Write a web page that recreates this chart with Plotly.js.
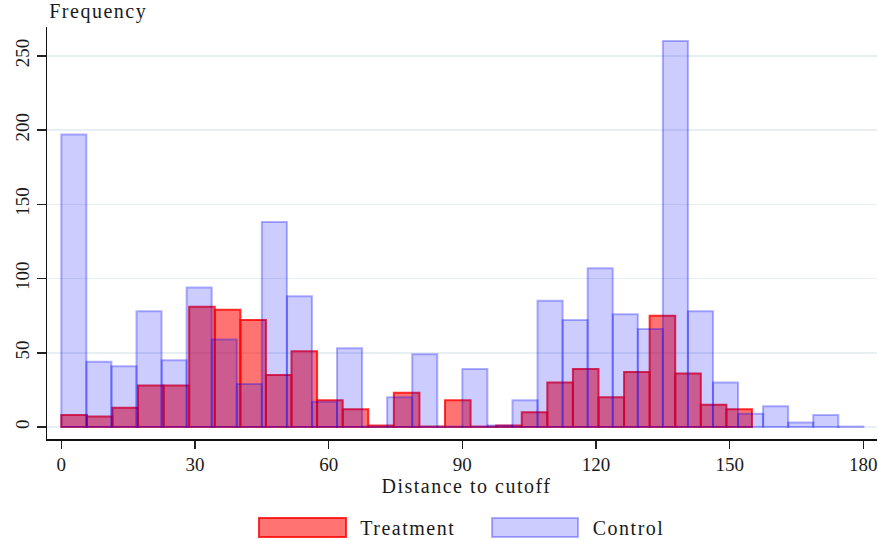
<!DOCTYPE html>
<html>
<head>
<meta charset="utf-8">
<script src="https://cdn.plot.ly/plotly-3.0.1.min.js"></script>
<style>
html,body{margin:0;padding:0;background:#fff;}
#chart{width:878px;height:540px;}
#chart .annotation-text{letter-spacing:1.5px;}
</style>
</head>
<body>
<div id="chart"></div>
<script>
// Histogram bins (start and width, in "Distance to cutoff" units)
const treatmentBinStart = 0;
const treatmentBinWidth = 155 / 27;
const controlBinStart = 0;
const controlBinWidth = 180 / 32;

// Counts per bin
const treatmentCounts = [8, 7, 13, 28, 28, 81, 79, 72, 35, 51, 18, 12, 1, 23, 0, 18, 0, 1, 10, 30, 39, 20, 37, 75, 36, 15, 12];
const controlCounts = [197, 44, 41, 78, 45, 94, 59, 29, 138, 88, 17, 53, 0, 20, 49, 0, 39, 1, 18, 85, 72, 107, 76, 66, 260, 78, 30, 9, 14, 3, 8, 0];

const seriesNames = ["Treatment", "Control"];
const xTicks = [0, 30, 60, 90, 120, 150, 180];
const yTicks = [0, 50, 100, 150, 200, 250];
const xTitle = "Distance to cutoff";
const yTitle = "Frequency";

function centers(start, width, n) {
  return Array.from({length: n}, (_, i) => start + width * (i + 0.5));
}
// Stata draws empty bins as a flat line on the baseline; give them a hairline height so the outline shows
function drawHeights(arr) { return arr.map(v => v === 0 ? 0.3 : v); }

const FONT = "Liberation Serif, Times New Roman, serif";
const TXT = "#1a1a1a";

const traces = [
  {
    type: "bar",
    name: seriesNames[0],
    x: centers(treatmentBinStart, treatmentBinWidth, treatmentCounts.length),
    y: drawHeights(treatmentCounts),
    customdata: treatmentCounts,
    hovertemplate: "%{customdata}<extra>" + seriesNames[0] + "</extra>",
    width: treatmentBinWidth,
    marker: {color: "rgba(255,0,0,0.55)", line: {color: "rgba(255,0,0,0.8)", width: 2}},
    showlegend: false
  },
  {
    type: "bar",
    name: seriesNames[1],
    x: centers(controlBinStart, controlBinWidth, controlCounts.length),
    y: drawHeights(controlCounts),
    customdata: controlCounts,
    hovertemplate: "%{customdata}<extra>" + seriesNames[1] + "</extra>",
    width: controlBinWidth,
    marker: {color: "rgba(0,0,255,0.2)", line: {color: "rgba(0,0,255,0.3)", width: 2}},
    showlegend: false
  }
];

// layout geometry (pixels)
const M = {l: 47, r: 1, t: 27, b: 101};
const W = 878, H = 540;
const pw = W - M.l - M.r, ph = H - M.t - M.b;
const px = x => (x - M.l) / pw;
const py = y => (H - M.b - y) / ph;

const legendItems = [
  {x0: 259, x1: 346, tc: 408, fill: "rgba(255,0,0,0.55)", line: "rgba(255,0,0,0.8)", text: seriesNames[0]},
  {x0: 492, x1: 578, tc: 629, fill: "rgba(0,0,255,0.2)", line: "rgba(0,0,255,0.3)", text: seriesNames[1]}
];
const shapes = legendItems.map(it => ({
  type: "rect", xref: "paper", yref: "paper",
  x0: px(it.x0), x1: px(it.x1), y0: py(537), y1: py(518),
  fillcolor: it.fill, line: {color: it.line, width: 2}
}));
const textFont = {family: FONT, size: 20, color: TXT};
const annotations = legendItems.map(it => ({
  xref: "paper", yref: "paper", x: px(it.tc), y: py(528),
  xanchor: "center", yanchor: "middle", showarrow: false,
  text: it.text, font: textFont
}));
annotations.push({
  xref: "paper", yref: "paper", x: px(98), y: py(12),
  xanchor: "center", yanchor: "middle", showarrow: false,
  text: yTitle, font: textFont
});
annotations.push({
  xref: "paper", yref: "paper", x: px(467), y: py(486),
  xanchor: "center", yanchor: "middle", showarrow: false,
  text: xTitle, font: textFont
});

const layout = {
  width: W, height: H,
  margin: M,
  paper_bgcolor: "#ffffff",
  plot_bgcolor: "#ffffff",
  barmode: "overlay",
  bargap: 0,
  font: {family: FONT, size: 19, color: TXT},
  xaxis: {
    range: [-3.21, 183.06],
    tickvals: xTicks,
    ticktext: xTicks.map(String),
    ticks: "outside", ticklen: 8, tickwidth: 1.5, tickcolor: "#222",
    showline: true, linecolor: "#111", linewidth: 1.5,
    showgrid: false, zeroline: false,
    tickfont: {family: FONT, size: 19, color: TXT}
  },
  yaxis: {
    range: [-8.08, 269.4],
    tickvals: yTicks,
    ticktext: yTicks.map(String),
    tickangle: -90,
    ticks: "outside", ticklen: 9, tickwidth: 1.5, tickcolor: "#222",
    showline: true, linecolor: "#111", linewidth: 1.5,
    showgrid: true, gridcolor: "#e8eff2", gridwidth: 1.5,
    zeroline: false,
    tickfont: {family: FONT, size: 19, color: TXT}
  },
  shapes: shapes,
  annotations: annotations
};

Plotly.newPlot("chart", traces, layout, {displayModeBar: false, staticPlot: true});
</script>
</body>
</html>
